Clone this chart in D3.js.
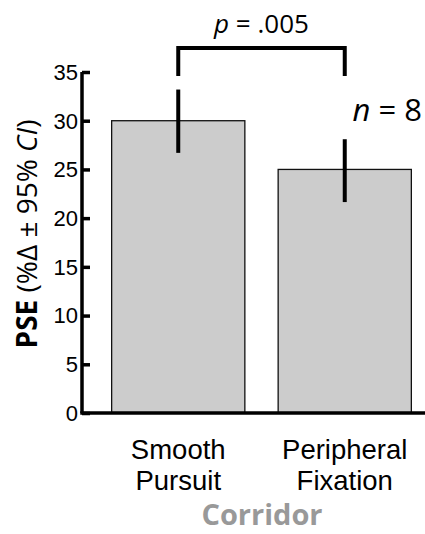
<!DOCTYPE html>
<html>
<head>
<meta charset="utf-8">
<script src="https://cdn.jsdelivr.net/npm/d3@7"></script>
<style>
  body { margin: 0; background: #fff; }
  svg { display: block; }
</style>
</head>
<body>
<div id="chart"></div>
<script>
  // data
  const categories = [['Smooth', 'Pursuit'], ['Peripheral', 'Fixation']];
  const pse = [30, 25];
  const ciLow = [26.7, 21.65];
  const ciHigh = [33.2, 28.1];
  const yTicks = [0, 5, 10, 15, 20, 25, 30, 35];

  const width = 425;
  const height = 534;

  const svg = d3.select('#chart')
    .append('svg')
    .attr('width', width)
    .attr('height', height);

  const y = d3.scaleLinear()
    .domain([0, 35])
    .range([413, 72]);

  const x = d3.scaleBand()
    .domain(d3.range(categories.length))
    .range([95, 428])
    .paddingInner(0.2)
    .paddingOuter(0.1);

  const axisX = 82;

  // bars
  svg.selectAll('rect.bar')
    .data(pse)
    .join('rect')
    .attr('class', 'bar')
    .attr('x', (d, i) => x(i))
    .attr('y', d => y(d))
    .attr('width', x.bandwidth())
    .attr('height', d => y(0) - y(d))
    .attr('fill', '#cccccc')
    .attr('stroke', '#111')
    .attr('stroke-width', 1.3);

  // error bars
  svg.selectAll('line.err')
    .data(pse)
    .join('line')
    .attr('class', 'err')
    .attr('x1', (d, i) => x(i) + x.bandwidth() / 2)
    .attr('x2', (d, i) => x(i) + x.bandwidth() / 2)
    .attr('y1', (d, i) => y(ciLow[i]))
    .attr('y2', (d, i) => y(ciHigh[i]))
    .attr('stroke', '#000')
    .attr('stroke-width', 4);

  // y axis
  const yAxis = d3.axisRight(y)
    .tickValues(yTicks)
    .tickSize(8)
    .tickFormat('');

  const gy = svg.append('g')
    .attr('transform', `translate(${axisX},0)`)
    .call(yAxis);
  gy.select('.domain')
    .attr('d', `M0,${y(35)}V${y(0)}`)
    .attr('stroke-width', 3.5);
  gy.selectAll('.tick line').attr('stroke-width', 3.5);

  svg.selectAll('text.ytick')
    .data(yTicks)
    .join('text')
    .attr('class', 'ytick')
    .attr('x', axisX - 4)
    .attr('y', d => y(d))
    .attr('dy', '0.36em')
    .attr('text-anchor', 'end')
    .attr('font-family', 'Liberation Sans, Arial, sans-serif')
    .attr('font-size', 22)
    .text(d => d);

  // x axis line
  svg.append('line')
    .attr('x1', axisX - 1.75)
    .attr('x2', width)
    .attr('y1', y(0))
    .attr('y2', y(0))
    .attr('stroke', '#000')
    .attr('stroke-width', 3.5);

  // category labels
  const cat = svg.selectAll('text.cat')
    .data(categories)
    .join('text')
    .attr('class', 'cat')
    .attr('text-anchor', 'middle')
    .attr('font-family', 'Liberation Sans, Arial, sans-serif')
    .attr('font-size', 27.5);
  cat.selectAll('tspan')
    .data((d, i) => d.map(t => ({ t, i })))
    .join('tspan')
    .attr('x', d => x(d.i) + x.bandwidth() / 2)
    .attr('y', (d, j) => 459 + j * 31)
    .text(d => d.t);

  // axis titles
  svg.append('text')
    .attr('x', 262)
    .attr('y', 525)
    .attr('text-anchor', 'middle')
    .attr('font-family', 'Open Sans, sans-serif')
    .attr('font-weight', 'bold')
    .attr('font-size', 29)
    .attr('fill', '#999999')
    .text('Corridor');

  const yl = svg.append('text')
    .attr('transform', 'translate(37,234) rotate(-90)')
    .attr('text-anchor', 'middle')
    .attr('font-family', 'Open Sans, sans-serif')
    .attr('font-size', 28);
  yl.append('tspan').attr('font-weight', 'bold').text('PSE');
  yl.append('tspan').text(' (%Δ ± 95% ');
  yl.append('tspan').attr('font-style', 'italic').text('CI');
  yl.append('tspan').text(')');

  // significance bracket
  const c0 = x(0) + x.bandwidth() / 2;
  const c1 = x(1) + x.bandwidth() / 2;
  svg.append('path')
    .attr('d', `M${c0},76V48H${c1}V76`)
    .attr('fill', 'none')
    .attr('stroke', '#000')
    .attr('stroke-width', 4);

  const pt = svg.append('text')
    .attr('x', (c0 + c1) / 2)
    .attr('y', 33)
    .attr('text-anchor', 'middle')
    .attr('font-family', 'Open Sans, sans-serif')
    .attr('font-size', 26);
  pt.append('tspan').attr('font-style', 'italic').text('p');
  pt.append('tspan').text(' = .005');

  const nt = svg.append('text')
    .attr('x', 422)
    .attr('y', 121)
    .attr('text-anchor', 'end')
    .attr('font-family', 'Open Sans, sans-serif')
    .attr('font-size', 31);
  nt.append('tspan').attr('font-style', 'italic').text('n');
  nt.append('tspan').text(' = 8');
</script>
</body>
</html>
